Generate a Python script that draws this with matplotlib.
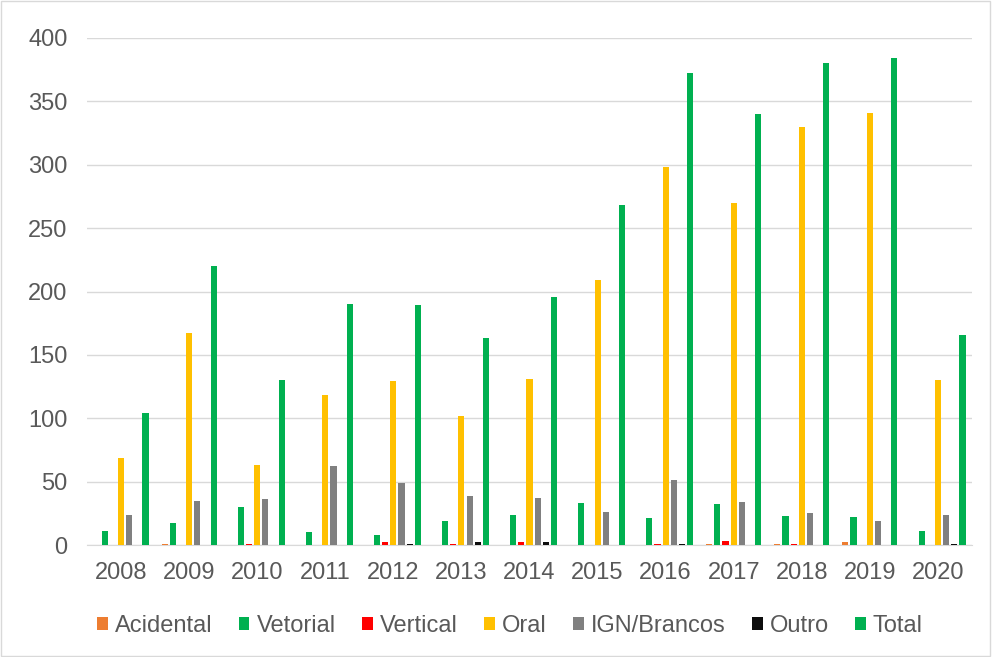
import numpy as np
import matplotlib
matplotlib.use("Agg")
import matplotlib.pyplot as plt
from matplotlib.patches import Rectangle

years = ["2008", "2009", "2010", "2011", "2012", "2013", "2014",
         "2015", "2016", "2017", "2018", "2019", "2020"]

acidental = [0, 1, 0, 0, 0, 0, 0, 0, 0, 1, 1, 2, 0]
vetorial = [11, 17, 30, 10, 8, 19, 24, 33, 21, 32, 23, 22, 11]
vertical = [0, 0, 1, 0, 2, 1, 2, 0, 1, 3, 1, 0, 0]
oral = [69, 167, 63, 118, 129, 102, 131, 209, 298, 270, 330, 341, 130]
ign_brancos = [24, 35, 36, 62, 49, 39, 37, 26, 51, 34, 25, 19, 24]
outro = [0, 0, 0, 0, 1, 2, 2, 0, 1, 0, 0, 0, 1]
total = [104, 220, 130, 190, 189, 163, 196, 268, 372, 340, 380, 384, 166]

series_names = ["Acidental", "Vetorial", "Vertical", "Oral", "IGN/Brancos", "Outro", "Total"]
series_values = [acidental, vetorial, vertical, oral, ign_brancos, outro, total]
colors = ["#ED7D31", "#00B050", "#FF0000", "#FFC000", "#808080", "#0D0D0D", "#00B050"]

plt.rcParams["font.family"] = ["Liberation Sans", "DejaVu Sans"]
FS = 17

fig = plt.figure(figsize=(9.92, 6.57), dpi=100)
ax = fig.add_axes([87 / 992, 1 - 545 / 657, (972 - 87) / 992, (545 - 38) / 657])

x = np.arange(len(years))
step = 0.12
width = 0.09
for i, (name, vals, col) in enumerate(zip(series_names, series_values, colors)):
    ax.bar(x + (i - 3) * step, vals, width=width, color=col, label=name, zorder=3)

ax.set_xlim(-0.5, len(years) - 0.5)
ax.set_ylim(0, 400)
ax.set_yticks(np.arange(0, 401, 50))
ax.set_xticks(x)
ax.set_xticklabels(years)
ax.grid(axis="y", color="#D9D9D9", linewidth=1, zorder=0)
for s in ["left", "right", "top"]:
    ax.spines[s].set_visible(False)
ax.spines["bottom"].set_color("#D9D9D9")
ax.tick_params(axis="both", length=0, labelsize=FS, colors="#595959")
ax.tick_params(axis="y", pad=14)
ax.tick_params(axis="x", pad=12)

fig.legend(loc="center", bbox_to_anchor=(510 / 992, 1 - 626 / 657), ncol=7, frameon=False,
           fontsize=FS, handlelength=0.45, handleheight=0.45, handletextpad=0.3,
           columnspacing=1.12, labelcolor="#595959")

fig.patches.append(Rectangle((0.001, 0.001), 0.997, 0.997, transform=fig.transFigure,
                             fill=False, edgecolor="#D9D9D9", linewidth=1))

fig.savefig("out.png", dpi=100)
